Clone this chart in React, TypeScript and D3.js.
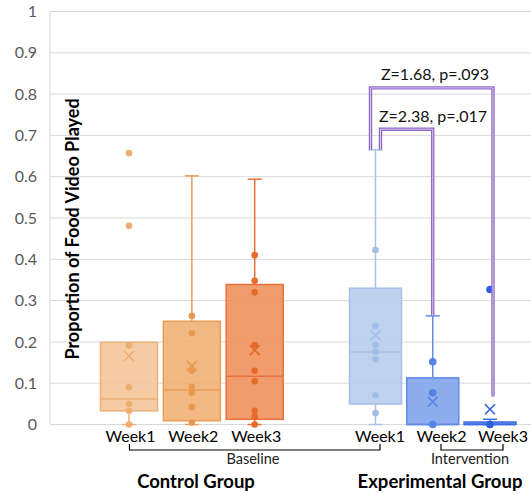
import React from "react";
import * as d3 from "d3";

const weeks = ["Week1", "Week2", "Week3"];
const yTicks = [0, 0.1, 0.2, 0.3, 0.4, 0.5, 0.6, 0.7, 0.8, 0.9, 1];

// Control group summary stats
const controlQ1 = [0.033, 0.009, 0.0125];
const controlMedian = [0.062, 0.0835, 0.117];
const controlQ3 = [0.199, 0.25, 0.339];
const controlMean = [0.166, 0.142, 0.18];
const controlWhiskerLow = [0, 0, 0];
const controlWhiskerHigh = [0.199, 0.602, 0.594];
const controlPoints = [
  [0.657, 0.481, 0.191, 0.09, 0.05, 0.033, 0],
  [0.263, 0.221, 0.13, 0.0915, 0.077, 0.042, 0.005],
  [0.41, 0.348, 0.32, 0.192, 0.13, 0.105, 0.033, 0.019, 0],
];

// Experimental group summary stats
const expQ1 = [0.0496, 0, 0];
const expMedian = [0.1755, 0, 0];
const expQ3 = [0.33, 0.113, 0.006];
const expMean = [0.216, 0.055, 0.037];
const expWhiskerLow = [0, 0, 0];
const expWhiskerHigh = [0.665, 0.263, 0.0126];
const expPoints = [
  [0.4225, 0.2385, 0.1925, 0.176, 0.158, 0.0707, 0.028],
  [0.152, 0.077, 0],
  [0.327, 0],
];

const controlFill = ["#F2C496", "#F0AE72", "#EE8E58"];
const controlStroke = ["#EDB17A", "#EC9D55", "#E8703A"];
const controlDot = ["#EDAE72", "#EA9A50", "#E66A2C"];
const expFill = ["#B6CCEA", "#7EA2EA", "#4E7DE6"];
const expStroke = ["#A6C0E6", "#5E8CE6", "#3C6DE2"];
const expDot = ["#A2BDE6", "#5582E3", "#2F5FDC"];

const statLabels = ["Z=1.68, p=.093", "Z=2.38, p=.017"];

const FONT = "Lato, 'Open Sans', sans-serif";

type BoxProps = {
  cx: number;
  w: number;
  q1: number;
  med: number;
  q3: number;
  mean: number;
  lo: number;
  hi: number;
  pts: number[];
  fill: string;
  stroke: string;
  dot: string;
  r: number;
  y: d3.ScaleLinear<number, number>;
};

function Box({ cx, w, q1, med, q3, mean, lo, hi, pts, fill, stroke, dot, r, y }: BoxProps) {
  const cap = 14;
  const m = 5;
  return (
    <g>
      <line x1={cx} x2={cx} y1={y(q3)} y2={y(hi)} stroke={stroke} strokeWidth={1.5} />
      <line x1={cx} x2={cx} y1={y(q1)} y2={y(lo)} stroke={stroke} strokeWidth={1.5} />
      {hi > q3 && <line x1={cx - cap / 2} x2={cx + cap / 2} y1={y(hi)} y2={y(hi)} stroke={stroke} strokeWidth={1.5} />}
      <line x1={cx - cap / 2} x2={cx + cap / 2} y1={y(lo)} y2={y(lo)} stroke={stroke} strokeWidth={1.5} />
      <rect
        x={cx - w / 2}
        y={y(q3)}
        width={w}
        height={Math.max(y(q1) - y(q3), 1)}
        fill={fill}
        fillOpacity={0.88}
        stroke={stroke}
        strokeWidth={1.5}
      />
      <line x1={cx - w / 2} x2={cx + w / 2} y1={y(med)} y2={y(med)} stroke={stroke} strokeWidth={1.5} />
      {pts.map((p, i) => (
        <circle key={i} cx={cx} cy={y(p)} r={r} fill={dot} />
      ))}
      <path
        d={`M${cx - m},${y(mean) - m}L${cx + m},${y(mean) + m}M${cx + m},${y(mean) - m}L${cx - m},${y(mean) + m}`}
        stroke={dot}
        strokeWidth={1.6}
        fill="none"
      />
    </g>
  );
}

function Bracket({ d }: { d: string }) {
  return (
    <g fill="none">
      <path d={d} stroke="#8C68C6" strokeWidth={3.4} />
      <path d={d} stroke="#D8C8EE" strokeWidth={1} />
    </g>
  );
}

export default function App() {
  const W = 531;
  const H = 494;
  const y = d3.scaleLinear().domain([0, 1]).range([424.5, 11.5]);
  const xc = d3.scalePoint<string>().domain(weeks).range([129, 254.7]);
  const xe = d3.scalePoint<string>().domain(weeks).range([375.5, 490]);
  const xeLabel = d3.scalePoint<string>().domain(weeks).range([380, 503]);
  const axisX = 50;

  const eW1 = xe("Week1")!;
  const eW2 = xe("Week2")!;
  const eW3 = xe("Week3")!;

  const outer = `M${eW1 - 5},${y(expWhiskerHigh[0])}V${y(0.815)}H${eW3 + 3}V${y(0.068)}`;
  const inner = `M${eW1 + 5},${y(expWhiskerHigh[0])}V${y(0.715)}H${eW2}V${y(expWhiskerHigh[1])}`;

  return (
    <svg width={W} height={H} style={{ position: "absolute", left: 0, top: 0, background: "#fff" }} fontFamily={FONT}>
      {/* grid */}
      {yTicks.map((t) => (
        <line key={t} x1={axisX} x2={W} y1={y(t)} y2={y(t)} stroke="#D9D9D9" strokeWidth={1} />
      ))}
      <line x1={axisX} x2={axisX} y1={y(1)} y2={y(0)} stroke="#D9D9D9" strokeWidth={1} />
      {yTicks.map((t) => (
        <text key={t} x={37} y={y(t)} dy="0.35em" textAnchor="end" fontSize={16} fill="#595959">
          {d3.format("~g")(t)}
        </text>
      ))}
      <text
        transform={`translate(78.5,229) rotate(-90)`}
        textAnchor="middle"
        fontSize={18}
        fontWeight="bold"
        fill="#000"
      >
        Proportion of Food Video Played
      </text>

      {weeks.map((wk, i) => (
        <Box
          key={"c" + wk}
          cx={xc(wk)!}
          w={57}
          q1={controlQ1[i]}
          med={controlMedian[i]}
          q3={controlQ3[i]}
          mean={controlMean[i]}
          lo={controlWhiskerLow[i]}
          hi={controlWhiskerHigh[i]}
          pts={controlPoints[i]}
          fill={controlFill[i]}
          stroke={controlStroke[i]}
          dot={controlDot[i]}
          r={3.3}
          y={y}
        />
      ))}
      {weeks.map((wk, i) => (
        <Box
          key={"e" + wk}
          cx={xe(wk)!}
          w={52}
          q1={expQ1[i]}
          med={expMedian[i]}
          q3={expQ3[i]}
          mean={expMean[i]}
          lo={expWhiskerLow[i]}
          hi={expWhiskerHigh[i]}
          pts={expPoints[i]}
          fill={expFill[i]}
          stroke={expStroke[i]}
          dot={expDot[i]}
          r={i === 0 ? 3.3 : 3.8}
          y={y}
        />
      ))}

      <Bracket d={outer} />
      <Bracket d={inner} />
      <text x={435} y={80} textAnchor="middle" fontSize={16} fill="#111">
        {statLabels[0]}
      </text>
      <text x={433} y={121.5} textAnchor="middle" fontSize={16} fill="#111">
        {statLabels[1]}
      </text>

      {weeks.map((wk) => (
        <text key={"cl" + wk} x={xc(wk)! + 1.5} y={442} textAnchor="middle" fontSize={16} fill="#000">
          {wk}
        </text>
      ))}
      {weeks.map((wk) => (
        <text key={"el" + wk} x={xeLabel(wk)!} y={442} textAnchor="middle" fontSize={16} fill="#000">
          {wk}
        </text>
      ))}

      <path
        d={`M${xc("Week1")! + 0.5},444V450H${xeLabel("Week1")!}V444`}
        stroke="#000"
        strokeWidth={1.2}
        fill="none"
      />
      <text x={253} y={464} textAnchor="middle" fontSize={14.5} fill="#222">
        Baseline
      </text>
      <path
        d={`M${xeLabel("Week2")! - 0.5},444V450H${xeLabel("Week3")!}V444`}
        stroke="#000"
        strokeWidth={1.2}
        fill="none"
      />
      <text x={470} y={464} textAnchor="middle" fontSize={14.5} fill="#222">
        Intervention
      </text>

      <text x={196} y={487.5} textAnchor="middle" fontSize={18.5} fontWeight="bold" fill="#000">
        Control Group
      </text>
      <text x={440} y={487.5} textAnchor="middle" fontSize={18.5} fontWeight="bold" fill="#000">
        Experimental Group
      </text>
    </svg>
  );
}
